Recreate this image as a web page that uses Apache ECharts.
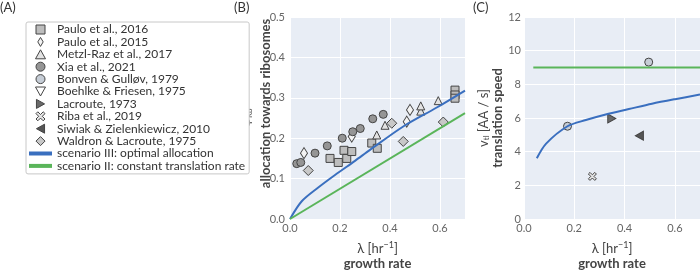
<!DOCTYPE html>
<html>
<head>
<meta charset="utf-8">
<script src="https://cdn.jsdelivr.net/npm/echarts@6/dist/echarts.min.js"></script>
<style>
  html, body { margin: 0; padding: 0; background: #fff; }
  #chart { width: 700px; height: 275px; }
</style>
</head>
<body>
<div id="chart"></div>
<script>
// panel B: ribosome allocation vs growth rate
const paulo2016 = [[0.160, 0.150], [0.193, 0.140], [0.216, 0.170], [0.227, 0.150], [0.247, 0.167],
  [0.327, 0.188], [0.349, 0.175], [0.660, 0.319], [0.660, 0.307], [0.660, 0.299]];
const paulo2015 = [[0.056, 0.163], [0.247, 0.204], [0.467, 0.241], [0.480, 0.270]];
const metzlRaz = [[0.347, 0.208], [0.380, 0.232], [0.523, 0.267], [0.523, 0.280], [0.593, 0.293]];
const xia = [[0.027, 0.137], [0.043, 0.140], [0.100, 0.163], [0.149, 0.181], [0.209, 0.200],
  [0.251, 0.216], [0.281, 0.224], [0.331, 0.248], [0.373, 0.259]];
const waldron = [[0.073, 0.120], [0.407, 0.237], [0.453, 0.192], [0.613, 0.240]];
const optimalB = [[0, 0], [0.047, 0.044], [0.113, 0.078], [0.18, 0.109], [0.26, 0.144],
  [0.32, 0.171], [0.453, 0.229], [0.587, 0.276], [0.7, 0.318]];
const constantB = [[0, 0], [0.7, 0.262]];

// panel C: translation speed vs growth rate
const bonven = [[0.173, 5.51], [0.496, 9.32]];
const boehlke = [];
const lacroute = [[0.349, 5.97]];
const riba = [[0.272, 2.53]];
const siwiak = [[0.459, 4.95]];
const optimalC = [[0.051, 3.61], [0.088, 4.48], [0.173, 5.51], [0.246, 5.88], [0.325, 6.21],
  [0.417, 6.53], [0.509, 6.85], [0.601, 7.12], [0.7, 7.39]];
const constantC = [[0.037, 9], [0.7, 9]];

const xTicks = [0, 0.2, 0.4, 0.6];

const FONT = 'Lato';
const BLUE = '#3a6fbf';
const GREEN = '#5ab55a';
const EDGE = '#444';
const TITLE = '#444';

const SYM = {
  square: 'path://M0,0H10V10H0Z',
  thinDiamond: 'path://M3,0L6,5L3,10L0,5Z',
  triUp: 'path://M5,0L10,9L0,9Z',
  circle: 'circle',
  triDown: 'path://M0,0L10,0L5,9Z',
  triRight: 'path://M0,0L9,5L0,10Z',
  cross: 'path://M0,2L2,0L5,3L8,0L10,2L7,5L10,8L8,10L5,7L2,10L0,8L3,5Z',
  triLeft: 'path://M9,0L0,5L9,10Z',
  diamond: 'path://M5,0L10,5L5,10L0,5Z',
  line: 'path://M0,0H23V4H0Z'
};

const markers = [
  { name: 'Paulo et al., 2016', data: paulo2016, sym: SYM.square, size: [8, 8], fill: '#bdbdbd', g: 0 },
  { name: 'Paulo et al., 2015', data: paulo2015, sym: SYM.thinDiamond, size: [7, 11], fill: '#f4f4f4', g: 0 },
  { name: 'Metzl-Raz et al., 2017', data: metzlRaz, sym: SYM.triUp, size: [8, 8], fill: '#e2e2e2', g: 0 },
  { name: 'Xia et al., 2021', data: xia, sym: SYM.circle, size: 8, fill: '#959595', g: 0 },
  { name: 'Bonven & Gulløv, 1979', data: bonven, sym: SYM.circle, size: 8, fill: '#c6cdd6', g: 1 },
  { name: 'Boehlke & Friesen, 1975', data: boehlke, sym: SYM.triDown, size: [9, 8], fill: '#ffffff', g: 1 },
  { name: 'Lacroute, 1973', data: lacroute, sym: SYM.triRight, size: [8, 9], fill: '#6a6a6a', g: 1 },
  { name: 'Riba et al., 2019', data: riba, sym: SYM.cross, size: [8, 8], fill: '#e6e6e6', g: 1 },
  { name: 'Siwiak & Zielenkiewicz, 2010', data: siwiak, sym: SYM.triLeft, size: [8, 9], fill: '#555555', g: 1 },
  { name: 'Waldron & Lacroute, 1975', data: waldron, sym: SYM.diamond, size: [10, 10], fill: '#c8c8c8', g: 0 }
];

const series = markers.map(m => ({
  name: m.name,
  type: 'scatter',
  xAxisIndex: m.g, yAxisIndex: m.g,
  data: m.data,
  symbol: m.sym,
  symbolSize: m.size,
  itemStyle: { color: m.fill, borderColor: EDGE, borderWidth: 1, opacity: 1 },
  z: 2
}));

function line(name, data, color, g) {
  return {
    name, type: 'line', xAxisIndex: g, yAxisIndex: g, data,
    symbol: 'none', smooth: 0.3, z: 3,
    lineStyle: { color, width: 2 }, itemStyle: { color }
  };
}
series.push(line('scenario III: optimal allocation', optimalB, BLUE, 0));
series.push(line('scenario II: constant translation rate', constantB, GREEN, 0));
series.push(line('scenario III: optimal allocation', optimalC, BLUE, 1));
series.push(line('scenario II: constant translation rate', constantC, GREEN, 1));

const legendData = markers.map(m => ({
  name: m.name,
  icon: m.sym,
  itemStyle: { color: m.fill, borderColor: EDGE, borderWidth: 1 }
})).concat([
  { name: 'scenario III: optimal allocation', icon: SYM.line, itemStyle: { color: BLUE, borderWidth: 0 } },
  { name: 'scenario II: constant translation rate', icon: SYM.line, itemStyle: { color: GREEN, borderWidth: 0 } }
]);

const tickLabel = { color: '#666', fontSize: 11, fontFamily: FONT };

function xAxis(g) {
  return {
    type: 'value', gridIndex: g, min: 0, max: 0.7, interval: 0.2,
    axisLine: { show: false }, axisTick: { show: false },
    splitLine: { lineStyle: { color: '#fff', width: 1 } },
    axisLabel: Object.assign({ margin: 4, showMaxLabel: false,
      formatter: v => (xTicks.includes(Math.round(v * 10) / 10) ? v.toFixed(1) : '') }, tickLabel),
    name: '{n|λ [hr}{sup|−1}{n|]}\n{b|growth rate}',
    nameLocation: 'middle', nameGap: 22,
    nameTextStyle: {
      rich: {
        n: { fontSize: 13, color: TITLE, fontFamily: FONT, lineHeight: 15 },
        sup: { fontSize: 9, color: TITLE, fontFamily: FONT, lineHeight: 15, verticalAlign: 'top' },
        b: { fontSize: 13, fontWeight: 'bold', color: TITLE, fontFamily: FONT, lineHeight: 15 }
      }
    }
  };
}

const hidden = { axisLine: { show: false }, axisTick: { show: false }, splitLine: { show: false } };

const chart = echarts.init(document.getElementById('chart'));
chart.setOption({
  animation: false,
  textStyle: { fontFamily: FONT },
  grid: [
    { left: 290, top: 17, width: 175, height: 215, show: true, backgroundColor: '#e8edf5', borderWidth: 0 },
    { left: 524, top: 17, width: 178, height: 215, show: true, backgroundColor: '#e8edf5', borderWidth: 0 }
  ],
  xAxis: [xAxis(0), xAxis(1)],
  yAxis: [
    {
      type: 'value', gridIndex: 0, position: 'left', min: 0, max: 0.5, interval: 0.1,
      axisLine: { show: false }, axisTick: { show: false },
      splitLine: { lineStyle: { color: '#fff', width: 1 } },
      axisLabel: Object.assign({ margin: 5, formatter: v => v.toFixed(1) }, tickLabel),
      // the pad token pushes the title towards the top of the panel
      name: '{pb| }{b|allocation towards ribosomes}',
      nameLocation: 'middle', nameGap: 16.5, nameMoveOverlap: false,
      nameTextStyle: {
        rich: {
          pb: { width: 29, lineHeight: 15, fontSize: 13 },
          b: { fontSize: 13, fontWeight: 'bold', color: TITLE, fontFamily: FONT, lineHeight: 15 }
        }
      }
    },
    {
      type: 'value', gridIndex: 1, min: 0, max: 12, interval: 2,
      axisLine: { show: false }, axisTick: { show: false },
      splitLine: { lineStyle: { color: '#fff', width: 1 } },
      axisLabel: Object.assign({ margin: 3 }, tickLabel),
      name: '{v|v}{sub|tl}{v| [AA / s]}\n{b|translation speed}',
      nameLocation: 'middle', nameGap: 14,
      nameTextStyle: {
        rich: {
          v: { fontSize: 13, color: TITLE, fontFamily: FONT, lineHeight: 14 },
          sub: { fontSize: 8, color: TITLE, fontFamily: FONT, lineHeight: 14, verticalAlign: 'bottom' },
          b: { fontSize: 13, fontWeight: 'bold', color: TITLE, fontFamily: FONT, lineHeight: 14 }
        }
      }
    },
    // carrier for the symbol line of the panel B y title
    Object.assign({
      type: 'value', gridIndex: 0, position: 'left', offset: 0, min: 0, max: 0.5,
      axisLabel: { show: false },
      name: '{p|ϕ}{sub|Rb}',
      nameLocation: 'middle', nameGap: 37, nameMoveOverlap: false,
      nameTextStyle: {
        rich: {
          p: { fontSize: 13, color: TITLE, fontFamily: FONT, lineHeight: 14 },
          sub: { fontSize: 8, color: TITLE, fontFamily: FONT, lineHeight: 14, verticalAlign: 'bottom' }
        }
      }
    }, hidden)
  ],
  legend: {
    left: 26, top: 22, orient: 'vertical',
    padding: [1.5, 4, 2, 3],
    itemWidth: 23, itemHeight: 9, itemGap: 0.4,
    symbolKeepAspect: true,
    borderColor: '#c8c8c8', borderWidth: 1, borderRadius: 2, backgroundColor: '#fff',
    selectedMode: false,
    textStyle: { fontSize: 12, lineHeight: 11, color: '#333', fontFamily: FONT },
    data: legendData
  },
  graphic: [
    { type: 'text', left: 0, top: 1, style: { text: '(A)', fontSize: 13, fill: '#333', fontFamily: FONT } },
    { type: 'text', left: 234, top: 1, style: { text: '(B)', fontSize: 13, fill: '#333', fontFamily: FONT } },
    { type: 'text', left: 473, top: 1, style: { text: '(C)', fontSize: 13, fill: '#333', fontFamily: FONT } }
  ],
  series
});
</script>
</body>
</html>
